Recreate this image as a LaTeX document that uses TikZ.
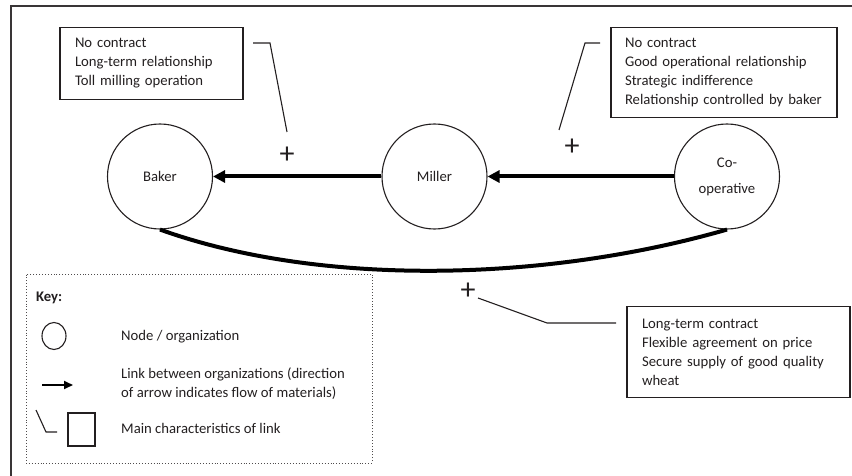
\documentclass[tikz,border=0pt]{standalone}
\usepackage{fontspec}
\setmainfont{Carlito}
\usetikzlibrary{arrows.meta,shapes.geometric}
\definecolor{ink}{HTML}{231F20}
\tikzset{
  org/.style={circle, draw=ink, line width=1.1pt, minimum size=105pt, inner sep=0pt,
              text=ink, font=\fontsize{14.7}{26}\selectfont, align=center},
  infobox/.style={draw=ink, line width=1.1pt, inner xsep=15pt, align=left, text=ink,
                  font=\fontsize{14.7}{19}\selectfont},
  flow/.style={line width=4pt, draw=black, -{Triangle[length=12pt,width=12pt]}},
  tie/.style={line width=4pt, draw=black},
  leader/.style={line width=1.1pt, draw=ink},
  plus/.style={text=ink, font=\fontsize{30}{30}\selectfont, inner sep=0pt},
  keytext/.style={text=ink, font=\fontsize{14.7}{19}\selectfont, align=left, inner sep=0pt},
}
\begin{document}
\begin{tikzpicture}[x=1pt, y=-1pt]
  \useasboundingbox (0,0) rectangle (852,476);
  \clip (0,0) rectangle (852,476);

  % outer frame
  \draw[line width=2.5pt, draw=ink!90] (11,6) rectangle (900,520);

  % organisations
  \node[org] (baker)  at (160,176.5) {Baker};
  \node[org] (miller) at (434.5,176.5) {Miller};
  \node[org] (coop)   at (727,176.5) {Co-\\operative};

  % material flows
  \draw[flow] (coop.west) -- (miller.east);
  \draw[flow] (miller.west) -- (baker.east);
  \draw[tie] (baker.south) .. controls (320,287) and (545,282) .. (coop.south);

  % link characteristics
  \node[infobox, minimum width=183pt, minimum height=72pt, text width=153pt] (boxA) at (151.5,63.5)
    {No contract\\Long-term relationship\\Toll milling operation};
  \node[infobox, inner xsep=14pt, minimum width=226pt, minimum height=90pt, text width=198pt] (boxB) at (724,72.5)
    {No contract\\Good operational relationship\\Strategic indifference\\Relationship controlled by baker};
  \node[infobox, minimum width=223pt, minimum height=91pt, text width=193pt] (boxC) at (738.5,352)
    {Long-term contract\\Flexible agreement on price\\Secure supply of good quality\\wheat};

  \node[plus] (plusA) at (287,155) {+};
  \node[plus] (plusB) at (572,147) {+};
  \node[plus] (plusC) at (468,291) {+};

  \coordinate (a0) at (253,43);
  \coordinate (a1) at (270,43);
  \coordinate (a2) at (287,132);
  \draw[leader] (a0) -- (a1) -- (a2);

  \coordinate (b0) at (600,43);
  \coordinate (b1) at (585,43);
  \coordinate (b2) at (559,130);
  \draw[leader] (b0) -- (b1) -- (b2);

  \coordinate (c0) at (478,298);
  \coordinate (c1) at (547,323);
  \coordinate (c2) at (616,323);
  \draw[leader] (c0) -- (c1) -- (c2);

  % key
  \node[draw=ink!80, dotted, line width=0.9pt, minimum width=346pt, minimum height=189pt, inner sep=0pt]
    (keybox) at (199,368.5) {};
  \node[keytext, anchor=base west, font=\bfseries\fontsize{14.7}{19}\selectfont] (keytitle) at (36,301) {Key:};

  \node[draw=ink, line width=1.1pt, ellipse, minimum width=24pt, minimum height=27pt, inner sep=0pt]
    (keyorg) at (54,336) {};
  \node[keytext, anchor=west] (keyorgtxt) at (121,337) {Node / organization};

  \coordinate (k0) at (42,385);
  \coordinate (k1) at (73,385);
  \draw[line width=1.8pt, draw=black, -{Triangle[length=9pt,width=8pt]}] (k0) -- (k1);
  \node[keytext, anchor=west] (keyflowtxt) at (121,384)
    {Link between organizations (direction\\of arrow indicates flow of materials)};

  \coordinate (l0) at (36,410);
  \coordinate (l1) at (46,432);
  \coordinate (l2) at (57,432);
  \draw[leader] (l0) -- (l1) -- (l2);
  \node[draw=ink, line width=1.1pt, minimum width=27pt, minimum height=33pt, inner sep=0pt]
    (keysq) at (81.5,429.5) {};
  \node[keytext, anchor=west] (keysqtxt) at (121,428) {Main characteristics of link};
\end{tikzpicture}
\end{document}
